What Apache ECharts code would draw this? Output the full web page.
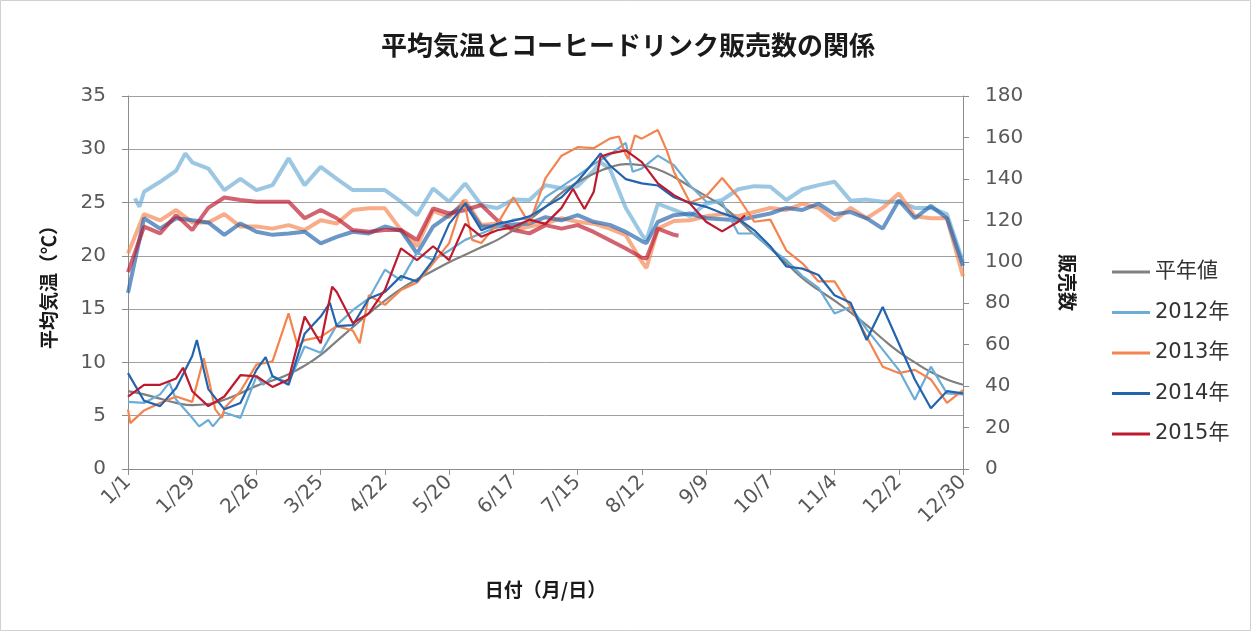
<!DOCTYPE html>
<html>
<head>
<meta charset="utf-8">
<script src="https://cdn.jsdelivr.net/npm/echarts@6/dist/echarts.min.js"></script>
<style>
  html, body { margin: 0; padding: 0; background: #ffffff; }
  #chart { width: 1256px; height: 632px; }
</style>
</head>
<body>
<div id="chart"></div>
<script>
// Tick labels along the date axis (every 28 days, leap-year calendar)
const dayTicks = ['1/1', '1/29', '2/26', '3/25', '4/22', '5/20', '6/17', '7/15', '8/12', '9/9', '10/7', '11/4', '12/2', '12/30'];

// Day of year (0 = 1/1) for the weekly values below
const sampleDays = [0, 7, 14, 21, 28, 35, 42, 49, 56, 63, 70, 77, 84, 91, 98, 105, 112, 119, 126, 133,
  140, 147, 154, 161, 168, 175, 182, 189, 196, 203, 210, 217, 224, 231, 238, 245, 252, 259, 266, 273,
  280, 287, 294, 301, 308, 315, 322, 329, 336, 343, 350, 357, 364];

// Average temperature (°C), weekly
const tempNormal = [7.3, 7.0, 6.6, 6.2, 6.0, 6.1, 6.5, 7.1, 7.8, 8.3, 8.9, 9.7, 10.7, 12.0, 13.3, 14.6, 15.8, 16.9, 17.8, 18.6,
  19.4, 20.1, 20.8, 21.5, 22.4, 23.4, 24.6, 25.9, 26.9, 27.7, 28.3, 28.6, 28.5, 28.1, 27.4, 26.5, 25.6, 24.7, 23.4, 22.0,
  20.7, 19.3, 17.9, 16.8, 15.8, 14.7, 13.5, 12.2, 11.0, 10.0, 9.1, 8.4, 7.9];
const temp2012 = [6.3, 6.2, 7.0, 6.5, 4.8, 4.6, 5.3, 4.8, 8.7, 8.7, 8.1, 11.5, 10.9, 13.5, 14.9, 16.0, 18.7, 17.7, 20.3, 19.6,
  20.5, 21.5, 22.1, 22.7, 23.4, 23.5, 25.5, 26.5, 27.5, 28.6, 29.5, 30.6, 28.2, 29.4, 28.5, 26.6, 25.1, 25.0, 22.1, 22.1,
  20.7, 19.6, 18.1, 17.0, 14.6, 15.2, 13.1, 11.2, 9.3, 6.5, 9.6, 7.1, 7.0];
const temp2013 = [5.6, 5.5, 6.2, 6.8, 6.3, 8.6, 5.7, 7.3, 9.8, 10.1, 14.6, 12.1, 12.4, 13.4, 13.0, 16.3, 15.4, 16.8, 17.5, 19.3,
  21.2, 24.6, 21.2, 23.0, 25.5, 23.0, 27.3, 29.4, 30.2, 30.1, 31.0, 29.5, 31.0, 31.8, 27.9, 25.0, 25.6, 27.3, 25.5, 23.2,
  23.4, 20.5, 19.3, 17.6, 17.6, 15.2, 12.4, 9.6, 9.0, 9.3, 8.4, 6.2, 7.4];
const temp2014 = [9.0, 6.4, 5.9, 7.6, 10.6, 7.5, 5.6, 6.2, 9.3, 8.7, 7.9, 12.7, 14.3, 13.4, 13.5, 16.0, 16.6, 18.1, 17.6, 19.6,
  23.0, 24.9, 22.4, 23.0, 23.3, 23.7, 24.6, 25.5, 27.0, 28.8, 28.5, 27.2, 26.8, 26.6, 25.5, 25.0, 24.6, 24.0, 23.5, 22.4,
  20.9, 19.0, 18.8, 18.2, 16.3, 15.6, 12.1, 15.2, 11.8, 8.4, 5.7, 7.3, 7.1];
const temp2015 = [6.8, 7.9, 7.9, 8.5, 7.3, 5.9, 6.8, 8.8, 8.7, 7.7, 8.4, 14.3, 11.8, 16.6, 13.7, 14.6, 16.8, 20.7, 19.6, 20.9,
  19.6, 23.0, 21.8, 22.4, 22.7, 23.4, 23.0, 24.5, 25.5, 26.0, 29.6, 29.9, 28.8, 26.8, 25.7, 24.9, 23.2, 22.3, 23.2, null,
  null, null, null, null, null, null, null, null, null, null, null, null, null];

// Extra readings between the weekly values (peaks and dips)
const temp2012ExtraDays = [18, 31, 37, 59, 220];
const temp2012Extra = [8.1, 4.0, 4.0, 7.9, 27.9];
const temp2013ExtraDays = [1, 33, 38, 41, 74, 101, 146, 150, 214, 218, 221, 229, 232, 235];
const temp2013Extra = [4.3, 10.4, 5.6, 4.8, 11.5, 11.8, 25.2, 21.5, 31.2, 29.1, 31.3, 31.6, 31.3, 29.8];
const temp2014ExtraDays = [30, 60, 88, 206];
const temp2014Extra = [12.1, 10.5, 15.6, 29.6];
const temp2015ExtraDays = [24, 89, 194, 199, 206, 269];
const temp2015Extra = [9.5, 17.1, 26.3, 24.4, 29.3, 23.8];

// Coffee drink sales (units), weekly
const sales2012 = [null, 133.8, 138.6, 144, 148, 145, 134.6, 140, 134.6, 137, 149.9, 137, 145.8, 140, 134.6, 134.6, 134.6, 129, 122.5, 135.4,
  129, 137.8, 127.4, 125.8, 130, 129.8, 137, 135.5, 136.5, 144, 145, 126, 113, 128, 125, 122, 128, 129.8, 135, 136.5,
  136.2, 129.8, 135, 137, 138.6, 129.5, 130, 129, 129, 126, 126, 123, 100];
const sales2013 = [104, 123, 120, 125, 119, 119, 123, 117, 117, 116, 117.7, 115.3, 120, 118.5, 125, 125.8, 125.8, 115.3, 107.5, 124.5,
  121.5, 129.8, 117.7, 118.5, 115.3, 117, 118.5, 121, 119.3, 118.4, 116, 112.8, 100, 116, 119.7, 120, 122, 123, 122, 124,
  126, 125, 128, 126, 120, 126, 121, 126, 133, 122, 121, 121, 93];
const sales2014 = [85, 121, 116, 121, 120, 119, 113, 118.5, 114.5, 113, 113.7, 114.5, 108.9, 112, 114.5, 113.7, 117, 115, 104, 117,
  122.5, 128.2, 117, 117, 118, 118.5, 121.5, 120, 122.5, 119.3, 117.8, 114.4, 110, 119.3, 122.5, 123.3, 121, 120.5, 120, 121.7,
  123.3, 126, 125, 128, 123, 124, 121, 116, 129.6, 121, 127, 121, 98];
const sales2015 = [95, 117, 113.7, 122.5, 115.3, 126, 131, 129.8, 129, 129, 129, 121, 125, 121, 115.3, 114.5, 115.3, 115.3, 110.5, 125.8,
  123.3, 125, 127.4, 120, 115.3, 113.7, 117.7, 116, 117.7, 114.4, 110.4, 106.4, 102, 116, 113, null,
  null, null, null, null, null, null, null, null, null, null, null, null, null, null, null, null, null];

const sales2012ExtraDays = [3, 5, 25, 206, 226];
const sales2012Extra = [130.6, 126.6, 152.3, 148, 110.5];
const sales2013ExtraDays = [226];
const sales2013Extra = [97];
const sales2014ExtraDays = [226];
const sales2014Extra = [109];
const sales2015ExtraDays = [226, 240];
const sales2015Extra = [101.6, 112.6];

const seriesNames = ['平年値', '2012年', '2013年', '2014年', '2015年'];
const seriesColors = ['#808080', '#6badd6', '#f4844f', '#2364ae', '#bd1a2e'];

// weekly values plus extra readings, as [day, value] sorted by day
function toPoints(values, extraDays, extraValues) {
  const pts = [];
  values.forEach((v, i) => { if (v !== null) pts.push([sampleDays[i], v]); });
  (extraDays || []).forEach((d, i) => pts.push([d, extraValues[i]]));
  pts.sort((a, b) => a[0] - b[0]);
  return pts;
}

const tempSets = [
  toPoints(tempNormal),
  toPoints(temp2012, temp2012ExtraDays, temp2012Extra),
  toPoints(temp2013, temp2013ExtraDays, temp2013Extra),
  toPoints(temp2014, temp2014ExtraDays, temp2014Extra),
  toPoints(temp2015, temp2015ExtraDays, temp2015Extra)
];
const salesSets = [
  null,
  toPoints(sales2012, sales2012ExtraDays, sales2012Extra),
  toPoints(sales2013, sales2013ExtraDays, sales2013Extra),
  toPoints(sales2014, sales2014ExtraDays, sales2014Extra),
  toPoints(sales2015, sales2015ExtraDays, sales2015Extra)
];

const series = [];
// temperature lines (left axis)
tempSets.forEach((pts, i) => {
  series.push({
    name: seriesNames[i], type: 'line', yAxisIndex: 0, data: pts,
    showSymbol: false, smooth: i === 0, z: 3,
    lineStyle: { color: seriesColors[i], width: 2.2 },
    itemStyle: { color: seriesColors[i] }
  });
});
// sales lines (right axis), drawn wider and paler
salesSets.forEach((pts, i) => {
  if (!pts) return;
  series.push({
    name: seriesNames[i], type: 'line', yAxisIndex: 1, data: pts,
    showSymbol: false, z: 2,
    lineStyle: { color: seriesColors[i], width: 4, opacity: 0.68 },
    itemStyle: { color: seriesColors[i] }
  });
});

const labelFont = "'DejaVu Sans', 'Noto Sans CJK JP', sans-serif";
const cjkFont = "'Noto Sans CJK JP', sans-serif";
const axisGray = '#8c8c8c';

const chart = echarts.init(document.getElementById('chart'), null, { renderer: 'canvas' });
chart.setOption({
  animation: false,
  backgroundColor: '#ffffff',
  title: {
    text: '平均気温とコーヒードリンク販売数の関係',
    left: 'center', top: 27,
    textStyle: { fontFamily: cjkFont, fontSize: 26, fontWeight: 'bold', color: '#1a1a1a' }
  },
  graphic: [{
    type: 'rect', shape: { x: 0.5, y: 0.5, width: 1250, height: 630 },
    style: { fill: 'none', stroke: '#d0d0d0', lineWidth: 1 }, silent: true
  }],
  legend: {
    data: seriesNames,
    orient: 'vertical', left: 1107, top: 256,
    icon: 'rect', itemWidth: 38, itemHeight: 3, itemGap: 18.5,
    textStyle: { fontFamily: labelFont, fontSize: 21, color: '#333333', lineHeight: 22 }
  },
  grid: { left: 128, right: 293, top: 96, bottom: 163 },
  xAxis: {
    type: 'value', min: 0, max: 364, interval: 28,
    name: '日付（月/日）', nameLocation: 'middle', nameGap: 111,
    nameTextStyle: { fontFamily: cjkFont, fontSize: 19, fontWeight: 'bold', color: '#1a1a1a' },
    axisLine: { show: true, lineStyle: { color: axisGray, width: 1 } },
    axisTick: { show: true, length: 6, lineStyle: { color: axisGray } },
    splitLine: { show: false },
    axisLabel: {
      rotate: 45, margin: 10, fontFamily: labelFont, fontSize: 20, color: '#595959',
      formatter: v => dayTicks[Math.round(v / 28)]
    }
  },
  yAxis: [{
    type: 'value', min: 0, max: 35, interval: 5, position: 'left',
    name: '平均気温（℃）', nameLocation: 'middle', nameGap: 70, nameRotate: 90,
    nameTextStyle: { fontFamily: cjkFont, fontSize: 19, fontWeight: 'bold', color: '#1a1a1a' },
    axisLine: { show: true, lineStyle: { color: axisGray, width: 1 } },
    axisTick: { show: true, length: 6, lineStyle: { color: axisGray } },
    splitLine: { show: true, lineStyle: { color: '#a0a0a0', width: 1 } },
    axisLabel: { margin: 22, fontFamily: labelFont, fontSize: 20, color: '#595959' }
  }, {
    type: 'value', min: 0, max: 180, interval: 20, position: 'right',
    name: '販売数', nameLocation: 'middle', nameGap: 95, nameRotate: -90,
    nameTextStyle: { fontFamily: cjkFont, fontSize: 19, fontWeight: 'bold', color: '#1a1a1a' },
    axisLine: { show: true, lineStyle: { color: axisGray, width: 1 } },
    axisTick: { show: true, length: 6, lineStyle: { color: axisGray } },
    splitLine: { show: false },
    axisLabel: { margin: 22, fontFamily: labelFont, fontSize: 20, color: '#595959' }
  }],
  series: series
});
</script>
</body>
</html>
